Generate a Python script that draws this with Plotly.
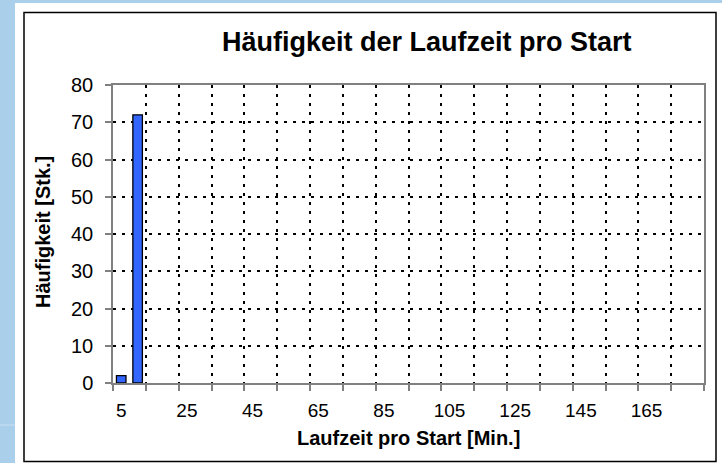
import plotly.graph_objects as go

# Laufzeit-Klassen in Minuten und Häufigkeiten
laufzeit = list(range(5, 185, 5))
haeufigkeit = [2, 72] + [0] * (len(laufzeit) - 2)
label_werte = list(range(5, 185, 20))
label_text = [str(v) for v in label_werte]
y_werte = list(range(0, 90, 10))

W, H = 722, 463
L, R, T, B = 113, 18, 85, 80
pw, ph = W - L - R, H - T - B


def px(x):
    return (x - L) / pw


def py(y):
    return (H - B - y) / ph


fig = go.Figure()
fig.add_trace(go.Bar(
    x=laufzeit, y=haeufigkeit, width=2.9,
    marker=dict(color="#3366FF",
                line=dict(color="black", width=[1.3 if v > 0 else 0 for v in haeufigkeit])),
))

font = "Liberation Sans, Arial, sans-serif"
grid = dict(gridcolor="black", gridwidth=1.6, griddash="3px,6px")

fig.update_layout(
    width=W, height=H,
    margin=dict(l=L, r=R, t=T, b=B),
    paper_bgcolor="#A9CFEB", plot_bgcolor="rgba(0,0,0,0)",
    showlegend=False,
    font=dict(family=font, color="black", size=19),
    xaxis=dict(
        range=[2.5, 182.5], tickmode="array", tickvals=label_werte, ticktext=label_text,
        ticks="", showgrid=False, zeroline=False,
        showline=True, linecolor="#808080", linewidth=1.5, mirror=True,
        ticklabelstandoff=9,
        minor=dict(tick0=2.5, dtick=10, ticks="outside", ticklen=6, tickcolor="#808080",
                   tickwidth=1.5, showgrid=True, **grid),
    ),
    yaxis=dict(
        range=[0, 80], tickvals=y_werte, ticks="outside", ticklen=6, tickcolor="#808080",
        tickwidth=1.5, showgrid=True, zeroline=False, **grid,
        showline=True, linecolor="#808080", linewidth=1.5, mirror=True,
        ticklabelstandoff=8, tickfont=dict(size=20),
    ),
)

# weisser Diagrammbereich mit schwarzem Rahmen
fig.add_shape(type="rect", xref="paper", yref="paper", layer="below",
              x0=px(15), x1=px(W + 5), y0=py(H + 5), y1=py(3),
              fillcolor="white", line=dict(width=0))
fig.add_shape(type="rect", xref="paper", yref="paper", layer="below",
              x0=px(24), x1=px(716), y0=py(461.5), y1=py(12.5),
              fillcolor="white", line=dict(color="black", width=1.5))
fig.add_shape(type="line", xref="paper", yref="paper", layer="below",
              x0=px(0), x1=px(15), y0=py(425), y1=py(425),
              line=dict(color="#C9E1F3", width=1))

titel = dict(xref="paper", yref="paper", showarrow=False, xanchor="center", yanchor="middle")
fig.add_annotation(text="<b>Häufigkeit der Laufzeit pro Start</b>", x=px(427), y=py(42),
                   font=dict(size=27), **titel)
fig.add_annotation(text="<b>Häufigkeit [Stk.]</b>", x=px(43), y=py(232), textangle=-90,
                   font=dict(size=20), **titel)
fig.add_annotation(text="<b>Laufzeit pro Start [Min.]</b>", x=px(408), y=py(438),
                   font=dict(size=20), **titel)

fig.write_html("out.html", config={"displayModeBar": False},
               post_script="document.body.style.margin='0';")
